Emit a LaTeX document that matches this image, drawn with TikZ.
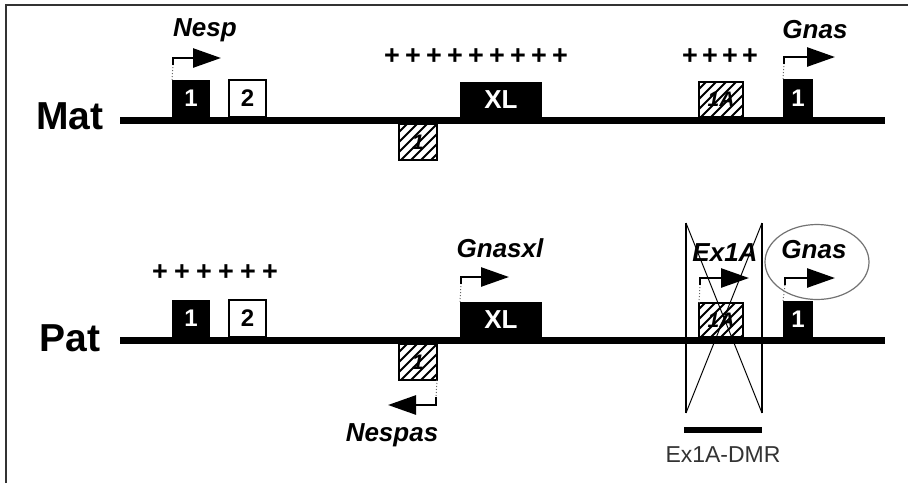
\documentclass[tikz,border=0pt]{standalone}
\usepackage{fontspec}
\setmainfont{Liberation Sans}
\usetikzlibrary{arrows.meta,calc,shapes.geometric}
\newcommand{\fsz}[1]{\fontsize{#1}{#1}\selectfont}
\begin{document}
\begin{tikzpicture}[x=1pt,y=-1pt,
  chrom/.style={line width=7pt},
  box/.style={rectangle, inner sep=0pt, outer sep=0pt, font=\bfseries\fsz{24}},
  solidex/.style={box, fill=black, text=white},
  openex/.style={box, fill=white, draw=black, line width=1.5pt},
  hatchex/.style={box, fill=white, font=\bfseries\itshape\fsz{21}},
  hatchline/.style={line width=1.8pt},
  gene/.style={font=\bfseries\itshape\fsz{26}, inner sep=0pt},
  strand/.style={font=\bfseries\fsz{39}, anchor=base, inner sep=0pt},
  plus/.style={font=\bfseries\fsz{27}, inner sep=0pt},
  prom/.style={line width=2.6pt, -{Triangle[length=28pt,width=19pt]}},
  promdot/.style={line width=1pt, dotted, black!60},
]
\useasboundingbox (0,0) rectangle (908,483);

% frame
\draw[line width=1.5pt, black!80] (6,483) -- (6,5) -- (908,5);

% chromosome lines
\coordinate (matL) at (120,120.5);
\coordinate (matR) at (885,120.5);
\coordinate (patL) at (120,340.5);
\coordinate (patR) at (885,340.5);
\draw[chrom] (matL) -- (matR);
\draw[chrom] (patL) -- (patR);

\node[strand] (mat) at (70,129) {Mat};
\node[strand] (pat) at (70,351) {Pat};

% maternal allele
\node[solidex, minimum width=38pt, minimum height=37pt] (m1) at (191,98.5) {1};
\node[openex, minimum width=37pt, minimum height=37pt] (m2) at (247.5,98.5) {2};
\node[hatchex, minimum width=38pt, minimum height=36pt] (mh1) at (418,142) {1};
\node[solidex, minimum width=82pt, minimum height=35pt, font=\bfseries\fsz{26}] (mxl) at (501,99.5) {XL};
\node[hatchex, minimum width=44pt, minimum height=35pt] (m1a) at (721,99.5) {1A};
\node[solidex, minimum width=30pt, minimum height=38pt] (mg1) at (798,98) {1};

% paternal allele
\node[solidex, minimum width=38pt, minimum height=37pt] (p1) at (191,318.5) {1};
\node[openex, minimum width=37pt, minimum height=37pt] (p2) at (247.5,318.5) {2};
\node[hatchex, minimum width=38pt, minimum height=36pt] (ph1) at (418,362) {1};
\node[solidex, minimum width=82pt, minimum height=35pt, font=\bfseries\fsz{26}] (pxl) at (501,319.5) {XL};
\node[hatchex, minimum width=44pt, minimum height=34pt] (p1a) at (721,320) {1A};
\node[solidex, minimum width=30pt, minimum height=36pt] (pg1) at (798,319) {1};

% diagonal hatching over the antisense / 1A exons
\foreach \n in {mh1,m1a,ph1,p1a} {
  \begin{scope}
    \clip (\n.south west) rectangle (\n.north east);
    \foreach \k in {-6,...,6}
      \draw[hatchline] ($(\n.south west)+(\k*10,2)$) -- ++(60,-60);
  \end{scope}
  \draw[line width=1.5pt] (\n.south west) rectangle (\n.north east);
}

% methylation marks
\foreach \i in {0,...,8} \node[plus] (mpa\i) at ({392+21*\i},57) {+};
\foreach \i in {0,...,3} \node[plus] (mpb\i) at ({690+20*\i},57) {+};
\foreach \i in {0,...,5} \node[plus] (ppa\i) at ({160+22*\i},273) {+};

% transcript names
\node[gene] (nesp) at (205,30) {Nesp};
\node[gene] (mgnas) at (815,30) {Gnas};
\node[gene] (gnasxl) at (500,248) {Gnasxl};
\node[gene] (ex1a) at (725,253) {Ex1A};
\node[gene] (pgnas) at (814,250) {Gnas};
\node[gene] (nespas) at (392,435) {Nespas};

% promoters
\coordinate (nespK) at (173,65);
\coordinate (nespT) at (221,58);
\draw[promdot] (m1.north west) -- (nespK);
\draw[prom] (nespK) |- (nespT);

\coordinate (mgK) at (784,64);
\coordinate (mgT) at (835,57);
\draw[promdot] (mg1.north west) -- (mgK);
\draw[prom] (mgK) |- (mgT);

\coordinate (xlK) at (461,284);
\coordinate (xlT) at (509,277);
\draw[promdot] (pxl.north west) -- (xlK);
\draw[prom] (xlK) |- (xlT);

\coordinate (exK) at (700,285);
\coordinate (exT) at (749,278);
\draw[promdot] (p1a.north west) -- (exK);
\draw[prom] (exK) |- (exT);

\coordinate (pgK) at (785,285);
\coordinate (pgT) at (835,278);
\draw[promdot] (pg1.north west) -- (pgK);
\draw[prom] (pgK) |- (pgT);

\coordinate (nsK) at (436,397);
\coordinate (nsT) at (388,405);
\draw[promdot] (ph1.south east) -- (nsK);
\draw[prom] (nsK) |- (nsT);

% silenced Ex1A promoter
\node[rectangle, inner sep=0pt, outer sep=0pt, minimum width=76pt, minimum height=190pt] (xbox) at (724,318) {};
\draw[line width=2pt] (xbox.north west) -- (xbox.south west);
\draw[line width=2pt] (xbox.north east) -- (xbox.south east);
\draw[line width=1pt] (xbox.north west) -- (xbox.south east);
\draw[line width=1pt] (xbox.north east) -- (xbox.south west);

\node[ellipse, draw=black!55, line width=1.2pt, inner sep=0pt, minimum width=104pt, minimum height=75pt] (ring) at (817,262) {};

% differentially methylated region
\coordinate (dmrL) at (684,430);
\coordinate (dmrR) at (762,430);
\draw[line width=6pt] (dmrL) -- (dmrR);
\node[font=\fsz{23}, text=black!80, inner sep=0pt] (dmrlab) at (723,455) {Ex1A-DMR};

\end{tikzpicture}
\end{document}
